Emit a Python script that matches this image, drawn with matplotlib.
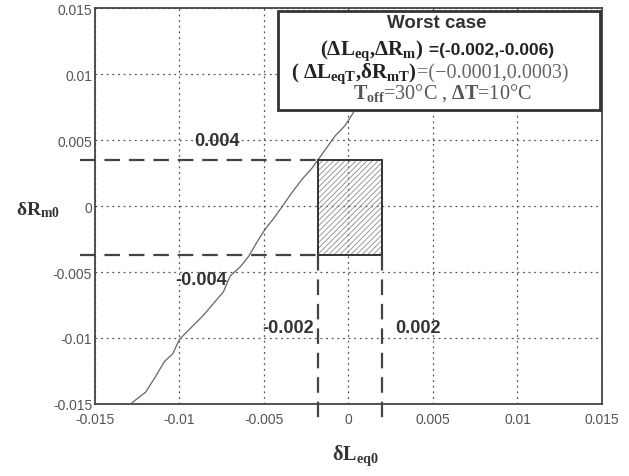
import numpy as np
import matplotlib.pyplot as plt
from matplotlib.patches import Rectangle

plt.rcParams['mathtext.fontset'] = 'custom'
plt.rcParams['mathtext.rm'] = 'Liberation Serif'
plt.rcParams['mathtext.it'] = 'Liberation Serif:italic'
plt.rcParams['mathtext.bf'] = 'Liberation Serif:bold'
plt.rcParams['hatch.linewidth'] = 0.6

# curve (dL_eq0, dR_m0)
curve_x = [-0.0129, -0.0120, -0.0115, -0.0109, -0.0104, -0.0100, -0.0093, -0.0086,
           -0.0080, -0.0074, -0.0070, -0.0064, -0.0059, -0.0054, -0.0049, -0.0044,
           -0.0039, -0.0033, -0.0027, -0.0022, -0.0018, -0.0013, -0.0008, -0.0002, 0.0003, 0.0005]
curve_y = [-0.0150, -0.0141, -0.0131, -0.0118, -0.0112, -0.0101, -0.0092, -0.0083,
           -0.0074, -0.0065, -0.0053, -0.0046, -0.0038, -0.0027, -0.0017, -0.0009,
           0.0000, 0.0011, 0.0021, 0.0028, 0.0035, 0.0044, 0.0053, 0.0061, 0.0071, 0.0076]

# worst case region
box_x = [-0.0018, 0.0020]
box_y = [-0.0037, 0.0035]

ticks = [-0.015, -0.01, -0.005, 0, 0.005, 0.01, 0.015]
tick_labels = ['-0.015', '-0.01', '-0.005', '0', '0.005', '0.01', '0.015']

# bold value labels
val_text = ['0.004', '-0.004', '-0.002', '0.002']
val_x = [-0.0078, -0.0087, -0.0036, 0.0041]
val_y = [0.0050, -0.0056, -0.0092, -0.0092]

fig = plt.figure(figsize=(6.29, 4.77), dpi=100)
ax = fig.add_axes([0.151, 0.151, 0.806, 0.830])

ax.set_xlim(-0.015, 0.015)
ax.set_ylim(-0.015, 0.015)
ax.set_xticks(ticks)
ax.set_yticks(ticks)
ax.set_xticklabels(tick_labels)
ax.set_yticklabels(tick_labels)
ax.tick_params(length=0, labelsize=10, labelcolor='#555555')
ax.tick_params(axis='x', pad=6)
ax.tick_params(axis='y', pad=2)
for lab in ax.get_xticklabels() + ax.get_yticklabels():
    lab.set_family(['Liberation Sans Narrow', 'Liberation Sans', 'DejaVu Sans'])
ax.grid(True, linestyle=(0, (1.5, 3)), color='#555555', linewidth=0.9)
for s in ax.spines.values():
    s.set_color('#444444')
    s.set_linewidth(1.3)

# curve
ax.plot(curve_x, curve_y, color='#666666', linewidth=0.9, zorder=3)

# hatched box
ax.add_patch(Rectangle((box_x[0], box_y[0]), box_x[1] - box_x[0], box_y[1] - box_y[0],
                       facecolor='none', edgecolor='#8a8a8a', hatch='//////',
                       linewidth=0, zorder=2))
ax.add_patch(Rectangle((box_x[0], box_y[0]), box_x[1] - box_x[0], box_y[1] - box_y[0],
                       facecolor='none', edgecolor='#333333', linewidth=1.4, zorder=4))

# dashed guide lines
dash = (0, (7, 4))
for yv in box_y:
    ax.plot([-0.0159, box_x[0]], [yv, yv], color='#444444', linestyle=dash,
            linewidth=1.6, clip_on=False, zorder=4)
for xv in box_x:
    ax.plot([xv, xv], [box_y[0], -0.0167], color='#444444', linestyle=dash,
            linewidth=1.6, clip_on=False, zorder=4)

for t, x, y in zip(val_text, val_x, val_y):
    ax.text(x, y, t, ha='center', va='center', fontsize=13, fontweight='bold',
            color='#333333', family='Liberation Sans', zorder=5)

# legend box
ax.add_patch(Rectangle((-0.00415, 0.0073), 0.01905, 0.0075, facecolor='white',
                       edgecolor='#333333', linewidth=2, zorder=6))
ax.text(0.0052, 0.01390, 'Worst case', ha='center', va='center', fontsize=13.5,
        fontweight='bold', family='Liberation Sans', color='#333333', zorder=7)
ax.text(0.00445, 0.01185, r'($\mathbf{\Delta L_{eq}}$,$\mathbf{\Delta R_{m}}$)', ha='right',
        va='center', fontsize=15, fontweight='bold', family='Liberation Serif',
        color='#222222', zorder=7)
ax.text(0.00445, 0.01185, ' =(-0.002,-0.006)', ha='left', va='center', fontsize=12.5,
        fontweight='bold', family='Liberation Sans', color='#222222', zorder=7)
ax.text(0.00405, 0.01010, r'( $\mathbf{\Delta L_{eqT}}$,$\mathbf{\delta R_{mT}}$)', ha='right',
        va='center', fontsize=15, fontweight='bold', family='Liberation Serif',
        color='#222222', zorder=7)
ax.text(0.00405, 0.01010, '=(\u22120.0001,0.0003)', ha='left', va='center', fontsize=14.5,
        family='Liberation Serif', color='#666666', zorder=7)
ax.text(0.00553, 0.00866, r'$\mathbf{T_{off}}$=30°C , $\mathbf{\Delta T}$=10°C', ha='center',
        va='center', fontsize=14.5, family='Liberation Serif', color='#555555', zorder=7)

# axis labels
fig.text(38 / 629, 1 - 210 / 477, r'$\mathbf{\delta R_{m0}}$', ha='center', va='center',
         fontsize=14, color='#333333')
fig.text(355 / 629, 1 - 456 / 477, r'$\mathbf{\delta L_{eq0}}$', ha='center', va='center',
         fontsize=14.5, color='#333333')

fig.savefig('out.png', dpi=100)
